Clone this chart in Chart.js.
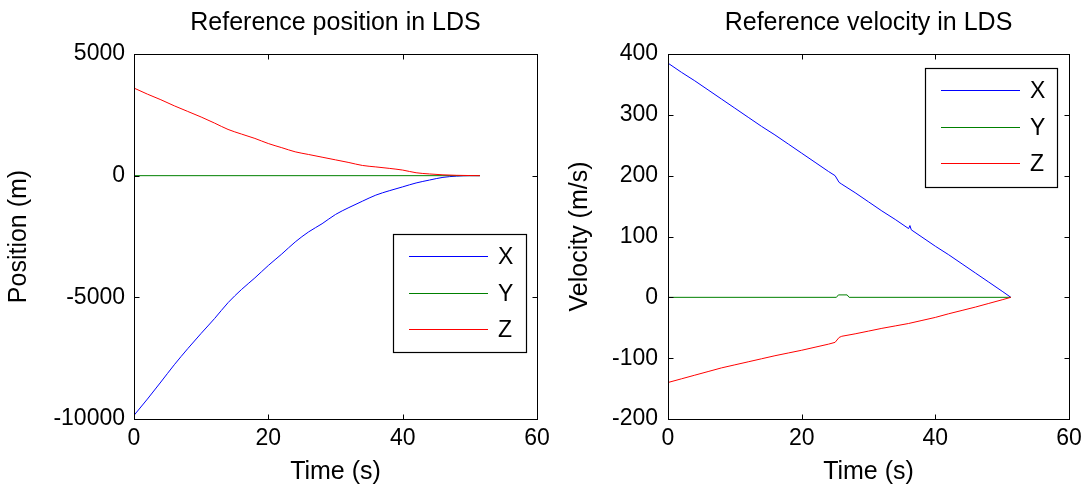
<!DOCTYPE html>
<html><head><meta charset="utf-8">
<script src="https://cdn.jsdelivr.net/npm/chart.js@4.4.1/dist/chart.umd.min.js"></script>
<style>
html,body{margin:0;padding:0;background:#fff;width:1085px;height:490px;overflow:hidden;}
canvas{position:absolute;top:0;}
#c1{left:0;}
#c2{left:545px;}
</style></head><body>
<canvas id="c1" width="560" height="490"></canvas>
<canvas id="c2" width="540" height="490"></canvas>
<script>
// ---------- data ----------
const seriesNames = ['X', 'Y', 'Z'];
const seriesColors = ['#0000ff', '#008000', '#ff0000'];

const posTime = [0,2,4,6,8,10,12,14,16,18,20,22,24,26,28,30,32,34,36,38,40,42,44,46,48,50,51.5];
const posX = [-9850,-9180,-8480,-7770,-7110,-6480,-5870,-5220,-4680,-4200,-3690,-3220,-2725,-2310,-1975,-1595,-1310,-1050,-800,-620,-460,-300,-180,-70,-20,0,0];
const posYTime = [0, 51.5];
const posY = [0, 0];
const posZ = [3600,3350,3120,2870,2640,2410,2160,1900,1710,1530,1320,1150,980,870,760,650,540,420,360,300,230,120,70,35,15,5,0];

const velXTime = [0,2,4,6,8,10,12,14,16,18,20,22,24,25,25.6,26,28,30,32,34,36,36.2,36.4,38,40,42,44,46,48,50,51.3];
const velX = [385,370,356,341,326,311,296,281,267,252,237,222,207,200,189,186,172,157,142,128,113,118,111,99,84,70,55,40,25,10,0];
const velYTime = [0,25.2,25.5,26.8,27.1,51.3];
const velY = [0,0,4,4,0,0];
const velZTime = [0,2,4,6,8,10,12,14,16,18,20,22,24,25,25.6,26,28,30,32,34,36,38,40,42,44,46,48,50,51.3];
const velZ = [-140,-134,-128,-122,-116,-111,-106,-101,-96,-91.5,-87,-82,-77,-74,-66,-64,-60,-55.5,-51,-47,-43,-38,-33,-27,-21.5,-16,-10,-4,0];

const posTicksY = [-10000, -5000, 0, 5000];
const velTicksY = [-200, -100, 0, 100, 200, 300, 400];
const timeTicks = [0, 20, 40, 60];

// ---------- helpers ----------
const FONT = '"Liberation Sans", Arial, Helvetica, sans-serif';
const toPts = (xs, ys) => xs.map((x, i) => ({x, y: ys[i]}));

const frameAndLegend = {
  id: 'frameAndLegend',
  afterDatasetsDraw(chart, args, opts) {
    const {ctx, chartArea: a, scales} = chart;
    ctx.save();
    ctx.strokeStyle = '#000';
    ctx.lineWidth = 1;
    const tl = 5;
    const L = Math.round(a.left) + 0.5, R = Math.round(a.right) + 0.5;
    const T = Math.round(a.top) + 0.5, B = Math.round(a.bottom) + 0.5;
    ctx.beginPath();
    scales.x.ticks.forEach(t => {
      const px = Math.round(scales.x.getPixelForValue(t.value)) + 0.5;
      ctx.moveTo(px, B); ctx.lineTo(px, B - tl);
      ctx.moveTo(px, T); ctx.lineTo(px, T + tl);
    });
    scales.y.ticks.forEach(t => {
      const py = Math.round(scales.y.getPixelForValue(t.value)) + 0.5;
      ctx.moveTo(L, py); ctx.lineTo(L + tl, py);
      ctx.moveTo(R, py); ctx.lineTo(R - tl, py);
    });
    ctx.stroke();
    ctx.strokeRect(L, T, R - L, B - T);
    // legend box
    const b = opts.box;
    ctx.fillStyle = '#fff';
    ctx.fillRect(b.x, b.y, b.w, b.h);
    ctx.strokeStyle = '#000';
    ctx.lineWidth = 1.2;
    ctx.strokeRect(b.x + 0.5, b.y + 0.5, b.w, b.h);
    ctx.lineWidth = 1;
    ctx.font = '23px ' + FONT;
    ctx.textBaseline = 'middle';
    ctx.textAlign = 'left';
    chart.data.datasets.forEach((ds, i) => {
      const y = Math.round(b.y + 22 + i * 36.5) + 0.5;
      ctx.strokeStyle = ds.borderColor;
      ctx.beginPath();
      ctx.moveTo(b.x + 16, y); ctx.lineTo(b.x + 95, y);
      ctx.stroke();
      ctx.fillStyle = '#000';
      ctx.fillText(ds.label, b.x + 105, y + 1);
    });
    ctx.restore();
  }
};

function makeChart(id, cfg) {
  const datasets = cfg.series.map((s, i) => ({
    label: seriesNames[i],
    data: toPts(s[0], s[1]),
    borderColor: seriesColors[i],
    backgroundColor: seriesColors[i],
    borderWidth: 1,
    pointRadius: 0,
    cubicInterpolationMode: cfg.smooth ? 'monotone' : 'default',
    tension: 0,
    fill: false,
    order: 2 - i
  }));
  return new Chart(document.getElementById(id), {
    type: 'line',
    data: {datasets},
    plugins: [frameAndLegend],
    options: {
      responsive: false,
      animation: false,
      devicePixelRatio: 1,
      layout: {padding: {left: 0, right: cfg.padRight, top: 0, bottom: 0}},
      plugins: {
        legend: {display: false},
        tooltip: {enabled: false},
        title: {
          display: true, text: cfg.title, color: '#000', fullSize: false,
          font: {family: FONT, size: 25, weight: 'normal', lineHeight: 1.2},
          padding: {top: 8, bottom: 16}
        },
        frameAndLegend: {box: cfg.legendBox}
      },
      scales: {
        x: {
          type: 'linear', min: 0, max: 60,
          afterBuildTicks: s => { s.ticks = timeTicks.map(v => ({value: v})); },
          afterFit: s => { s.height = 71; s.paddingLeft = 0; s.paddingRight = 0; },
          grid: {display: false, drawTicks: false},
          border: {display: false},
          ticks: {color: '#000', font: {family: FONT, size: 23}, padding: 6, maxRotation: 0,
                  callback: v => String(v)},
          title: {display: true, text: 'Time (s)', color: '#000',
                  font: {family: FONT, size: 25, lineHeight: 1.2}, padding: {top: 0, bottom: 3}}
        },
        y: {
          type: 'linear', min: cfg.yMin, max: cfg.yMax,
          afterBuildTicks: s => { s.ticks = cfg.yTicks.map(v => ({value: v})); },
          afterFit: s => { s.width = cfg.yWidth; s.paddingTop = 0; s.paddingBottom = 0; },
          grid: {display: false, drawTicks: false},
          border: {display: false},
          ticks: {color: '#000', font: {family: FONT, size: 23}, padding: cfg.yPad,
                  callback: v => String(v)},
          title: {display: true, text: cfg.yTitle, color: '#000',
                  font: {family: FONT, size: 25, lineHeight: 1.2}, padding: {top: cfg.yTitlePad, bottom: 0}}
        }
      }
    }
  });
}

makeChart('c1', {
  title: 'Reference position in LDS',
  yTitle: 'Position (m)',
  yMin: -10000, yMax: 5000, yTicks: posTicksY,
  yWidth: 134, yPad: 9, yTitlePad: 4, padRight: 23, smooth: true,
  legendBox: {x: 393, y: 234, w: 133, h: 118},
  series: [[posTime, posX], [posYTime, posY], [posTime, posZ]]
});

makeChart('c2', {
  title: 'Reference velocity in LDS',
  yTitle: 'Velocity (m/s)',
  yMin: -200, yMax: 400, yTicks: velTicksY,
  yWidth: 123, yPad: 10, yTitlePad: 20, padRight: 16, smooth: false,
  legendBox: {x: 380, y: 68, w: 132, h: 119},
  series: [[velXTime, velX], [velYTime, velY], [velZTime, velZ]]
});
</script>
</body></html>
